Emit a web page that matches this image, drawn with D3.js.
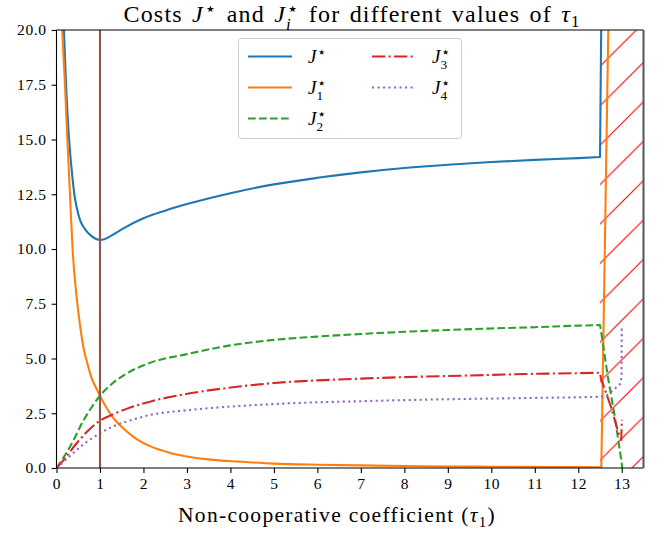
<!DOCTYPE html>
<html><head><meta charset="utf-8">
<script src="https://cdn.jsdelivr.net/npm/d3@7"></script>
<style>body{margin:0;background:#fff;} svg{display:block;}</style>
</head><body>
<svg id="chart" width="664" height="533"></svg>
<script>
// ---- data ----
const xTicks = [0,1,2,3,4,5,6,7,8,9,10,11,12,13];
const yTicks = [0,2.5,5,7.5,10,12.5,15,17.5,20];
const jStar = [[0.17,20],[0.22,17.5],[0.29,15],[0.35,13.6],[0.41,12.5],[0.47,11.85],[0.54,11.33],[0.65,10.92],[0.8,10.6],[0.9,10.47],[1.0,10.42],[1.1,10.45],[1.25,10.6],[1.5,10.9],[2,11.4],[2.5,11.75],[3,12.05],[4,12.55],[5,12.95],[6,13.25],[7,13.5],[8,13.7],[9,13.85],[10,13.97],[11,14.07],[12,14.15],[12.5,14.2],[12.55,25]];
const j1 = [[0.13,20],[0.195,17.5],[0.25,15],[0.31,12.5],[0.37,10],[0.48,7.5],[0.55,6.4],[0.62,5.5],[0.7,4.85],[0.8,4.15],[0.9,3.7],[1.0,3.3],[1.15,2.75],[1.3,2.3],[1.54,1.8],[1.8,1.38],[2.15,1.0],[2.6,0.7],[3.07,0.5],[3.6,0.37],[4.2,0.29],[5,0.2],[6,0.15],[7,0.12],[8,0.09],[9,0.07],[10,0.06],[11,0.05],[12,0.04],[12.5,0.03],[12.53,0],[12.69,20],[12.72,25]];
const j2 = [[0,0],[0.2,0.6],[0.4,1.3],[0.6,2.1],[0.8,2.75],[1.0,3.3],[1.25,3.8],[1.6,4.3],[2.15,4.8],[3,5.2],[4,5.6],[5,5.85],[6,6.0],[7,6.12],[8,6.22],[9,6.3],[10,6.37],[11,6.43],[12,6.5],[12.5,6.53],[12.52,6.3],[12.68,4.17],[12.84,2.34],[13.0,0.2],[13.05,-1]];
const j3 = [[0,0],[0.2,0.45],[0.43,1.05],[0.7,1.65],[1.0,2.16],[1.3,2.45],[1.61,2.7],[2.15,3.03],[3.07,3.41],[4.2,3.72],[5,3.88],[6,4.0],[7,4.08],[8,4.15],[9,4.2],[10,4.25],[11,4.3],[12,4.33],[12.5,4.35],[12.52,4.1],[12.75,2.8],[12.93,1.58],[12.99,1.28],[13.0,2.2]];
const j4 = [[0,0],[0.2,0.35],[0.45,0.8],[0.7,1.2],[1.0,1.58],[1.3,1.9],[1.61,2.12],[2.15,2.42],[3.07,2.65],[4.2,2.83],[5,2.92],[6,3.0],[7,3.05],[8,3.1],[9,3.14],[10,3.17],[11,3.2],[12,3.23],[12.5,3.25],[12.65,3.3],[12.8,3.55],[12.97,3.85],[12.995,4.2],[13.0,6.5]];
const markerX = 1;
const spanX = [12.5, 13.5];

const m = {l:56.5, r:643.5, t:30, b:468};
const svg = d3.select('#chart');
const FONT = "'Liberation Serif','DejaVu Serif',serif";
const x = d3.scaleLinear().domain([0,13.5]).range([m.l, m.r]);
const y = d3.scaleLinear().domain([0,20]).range([m.b, m.t]);

const defs = svg.append('defs');
defs.append('clipPath').attr('id','plot').append('rect')
  .attr('x', m.l).attr('y', m.t).attr('width', m.r-m.l).attr('height', m.b-m.t);
const s = 39.4;
const pat = defs.append('pattern').attr('id','hatch').attr('patternUnits','userSpaceOnUse')
  .attr('width', s).attr('height', s).attr('patternTransform','translate(36,0)');
pat.append('path').attr('d', `M0,${s} L${s},0 M-10,10 L10,-10 M${s-10},${s+10} L${s+10},${s-10}`)
  .attr('stroke','#ff0000').attr('stroke-width',1.1).attr('fill','none');

const g = svg.append('g');
g.append('rect').attr('x', x(spanX[0])).attr('y', m.t).attr('width', x(spanX[1])-x(spanX[0])).attr('height', m.b-m.t)
  .attr('fill','url(#hatch)');

const lw = 2.1;
const series = [
  {d:jStar, c:'#1f77b4', dash:null},
  {d:j1, c:'#ff7f0e', dash:null},
  {d:j2, c:'#2ca02c', dash:'7.7,3.3'},
  {d:j3, c:'#d62728', dash:'13.3,3.3,2.1,3.3'},
  {d:j4, c:'#9467bd', dash:'2.1,3.4'}
];
const lineSmooth = d3.line().x(d=>x(d[0])).y(d=>y(d[1])).curve(d3.curveMonotoneX);
function pathFor(data) {
  const head = data.filter(d => d[0] <= spanX[0]);
  const tail = data.filter(d => d[0] > spanX[0]);
  let p = lineSmooth(head);
  tail.forEach(d => { p += `L${x(d[0])},${y(d[1])}`; });
  return p;
}
const pg = g.append('g').attr('clip-path','url(#plot)');
series.forEach(se => {
  pg.append('path').attr('d', pathFor(se.d)).attr('fill','none').attr('stroke', se.c)
    .attr('stroke-width', lw).attr('stroke-dasharray', se.dash).attr('stroke-linejoin','round');
});
pg.append('line').attr('x1', x(markerX)).attr('x2', x(markerX)).attr('y1', m.t).attr('y2', m.b)
  .attr('stroke','#8c564b').attr('stroke-width', 2.1);

// axes
const xa = svg.append('g').attr('transform',`translate(0,${m.b})`)
  .call(d3.axisBottom(x).tickValues(xTicks).tickSize(4.9).tickPadding(5).tickFormat(d3.format('d')));
const ya = svg.append('g').attr('transform',`translate(${m.l},0)`)
  .call(d3.axisLeft(y).tickValues(yTicks).tickSize(4.9).tickPadding(5).tickFormat(d3.format('.1f')));
[xa, ya].forEach(a => {
  a.select('.domain').remove();
  a.selectAll('.tick line').attr('stroke','#000').attr('stroke-width',1.1);
  a.selectAll('.tick text').attr('font-family', FONT).attr('font-size', 15.5).attr('fill','#000')
    .attr('letter-spacing', 0.6);
});
svg.append('line').attr('x1',m.l).attr('x2',m.r).attr('y1',m.t).attr('y2',m.t).attr('stroke','#000').attr('stroke-width',1.1);
svg.append('line').attr('x1',m.l).attr('x2',m.r).attr('y1',m.b).attr('y2',m.b).attr('stroke','#000').attr('stroke-width',1.1);
svg.append('line').attr('x1',m.l).attr('x2',m.l).attr('y1',m.t).attr('y2',m.b).attr('stroke','#000').attr('stroke-width',1.1);
svg.append('line').attr('x1',m.r).attr('x2',m.r).attr('y1',m.t).attr('y2',m.b).attr('stroke','#555').attr('stroke-width',2);

// math helper: J with star superscript and optional subscript stacked beneath.
function addJ(t, sub, fs) {
  t.append('tspan').attr('font-style','italic').text('J');
  const star = t.append('tspan').attr('font-family',"'DejaVu Sans',sans-serif").attr('font-size', fs*0.78)
    .attr('dy', -fs*0.3).attr('dx', fs*0.03).text('⋆');
  const sw = star.node().getComputedTextLength();
  if (sub !== null) {
    const sb = t.append('tspan').attr('font-size', fs*0.7).attr('font-style', isNaN(+sub)?'italic':'normal')
      .attr('dx', -sw - fs*0.03).attr('dy', fs*0.62).text(sub);
    const bw = sb.node().getComputedTextLength();
    return {dx: Math.max(0, sw + fs*0.03 - bw), dy: -fs*0.32};
  }
  return {dx: 0, dy: fs*0.3};
}

// title
const tfs = 24;
const title = svg.append('text').attr('x', (m.l+m.r)/2 + 2).attr('y', 22).attr('text-anchor','middle')
  .attr('font-family', FONT).attr('font-size', tfs).attr('fill','#000').attr('letter-spacing', 1.2).attr('word-spacing', 2);
title.append('tspan').text('Costs ');
let off = addJ(title, null, tfs);
title.append('tspan').attr('dx', off.dx).attr('dy', off.dy).text(' and ');
off = addJ(title, 'i', tfs);
title.append('tspan').attr('dx', off.dx).attr('dy', off.dy).text(' for different values of ');
title.append('tspan').attr('font-style','italic').text('τ');
title.append('tspan').attr('font-size', tfs*0.7).attr('dy', tfs*0.22).text('1');

// x label
const xfs = 21.5;
const xl = svg.append('text').attr('x', 337).attr('y', 522).attr('text-anchor','middle')
  .attr('font-family', FONT).attr('font-size', xfs).attr('fill','#000').attr('letter-spacing', 1.3);
xl.append('tspan').text('Non-cooperative coefficient (');
xl.append('tspan').attr('font-style','italic').text('τ');
xl.append('tspan').attr('font-size', xfs*0.7).attr('dy', xfs*0.22).text('1');
xl.append('tspan').attr('dy', -xfs*0.22).text(')');

// legend
const leg = svg.append('g');
leg.append('rect').attr('x',238.5).attr('y',38.5).attr('width',223).attr('height',100).attr('rx',3)
  .attr('fill','#fff').attr('fill-opacity',0.8).attr('stroke','#cccccc').attr('stroke-width',1);
const legItems = [
  {s:0, sub:null, col:0, row:0},
  {s:1, sub:'1', col:0, row:1},
  {s:2, sub:'2', col:0, row:2},
  {s:3, sub:'3', col:1, row:0},
  {s:4, sub:'4', col:1, row:1}
];
const lfs = 19;
legItems.forEach(it => {
  const se = series[it.s];
  const lx = it.col === 0 ? 248 : 372;
  const ly = 56.5 + it.row*31;
  leg.append('line').attr('x1', lx).attr('x2', lx+44).attr('y1', ly).attr('y2', ly)
    .attr('stroke', se.c).attr('stroke-width', lw).attr('stroke-dasharray', se.dash);
  const t = leg.append('text').attr('x', lx+60).attr('y', ly+6).attr('font-family', FONT)
    .attr('font-size', lfs).attr('fill','#000');
  addJ(t, it.sub, lfs);
});
</script>
</body></html>
